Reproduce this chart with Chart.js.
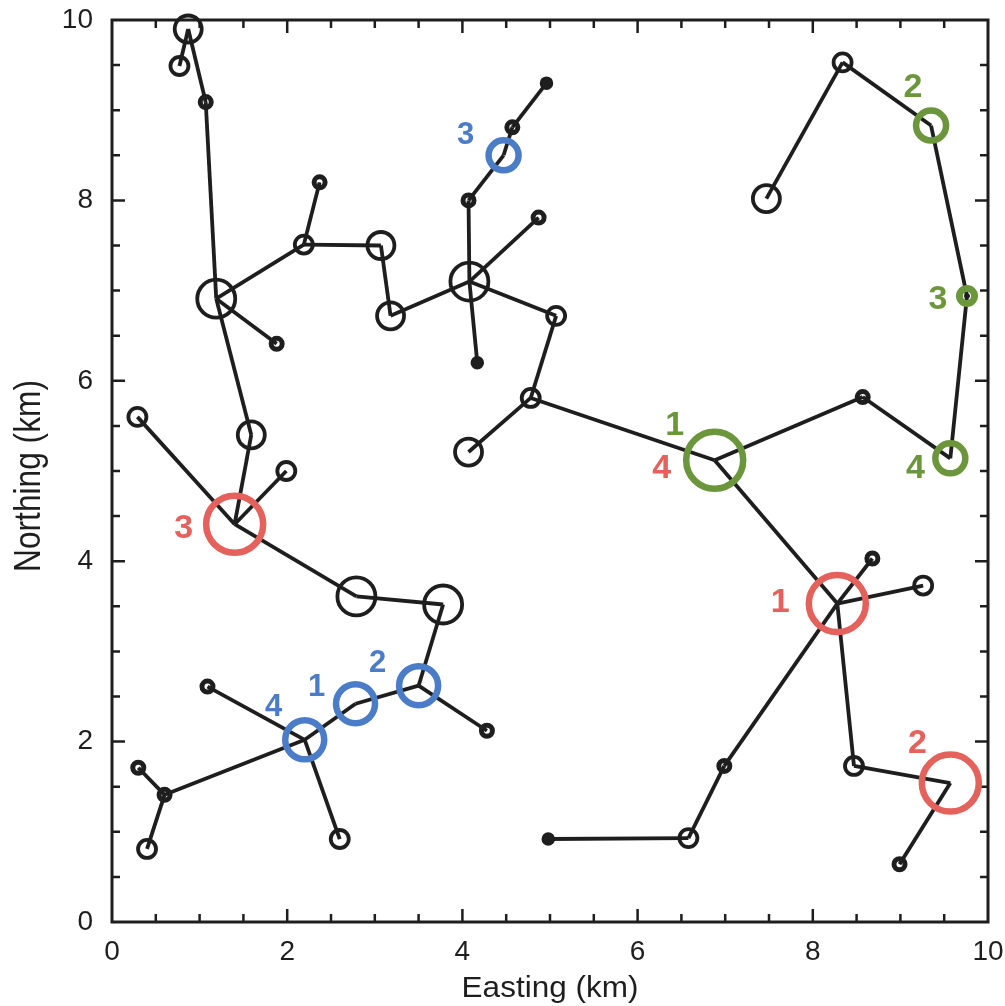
<!DOCTYPE html>
<html>
<head>
<meta charset="utf-8">
<script src="https://cdn.jsdelivr.net/npm/chart.js@4/dist/chart.umd.min.js"></script>
<style>
  html, body { margin: 0; padding: 0; background: #fff; }
  canvas { display: block; }
</style>
</head>
<body>
<canvas id="chart" width="1005" height="1006"></canvas>
<script>
// site coordinates (km), sites numbered from 1 in the comments
const siteEast = [
    0.87, 0.77, 1.07, 1.19, 1.88, 2.19, 2.37, 3.07, 3.18, 4.08,   // 1-10
    4.07, 4.47, 4.57, 4.96, 4.87, 4.17, 5.07, 4.78, 4.07, 6.88,   // 11-20
    8.57, 9.57, 9.76, 9.35, 8.34, 7.47, 8.28, 8.68, 9.26, 8.47,   // 21-30
    9.57, 8.99, 6.99, 6.58, 4.98, 1.40, 0.29, 1.59, 1.99, 2.79,   // 31-40
    3.78, 3.50, 4.28, 2.78, 2.20, 1.09, 2.60, 0.60, 0.30, 0.40    // 41-50
];
const siteNorth = [
    9.90, 9.49, 9.09, 6.91, 6.41, 7.51, 8.20, 7.50, 6.72, 7.10,
    8.00, 8.50, 8.81, 9.30, 7.81, 6.20, 6.72, 5.81, 5.21, 5.12,
    5.82, 5.14, 6.94, 8.83, 9.53, 8.02, 3.53, 4.03, 3.73, 1.73,
    1.54, 0.64, 1.73, 0.93, 0.92, 4.41, 5.60, 5.40, 5.00, 3.61,
    3.52, 2.62, 2.12, 2.42, 2.02, 2.61, 0.92, 1.41, 1.71, 0.81
];
// symbol class of each site: 0 solid, 1 tiny, 2 small, 3 medium, 4 large, 5 pin, -1 only coloured ring
const siteClass = [
    3, 2, 1, 4, 1, 2, 1, 3, 3, 4,
    1, -1, 1, 0, 1, 0, 2, 2, 3, -1,
    1, -1, 5, -1, 2, 3, -1, 1, 2, 2,
    -1, 1, 1, 2, 0, -1, 2, 3, 2, 4,
    4, -1, 1, -1, -1, 1, 2, 1, 1, 2
];
// links between sites (site numbers)
const links = [
    [1, 2], [1, 3], [3, 4], [4, 5], [4, 6], [6, 7], [6, 8], [8, 9], [9, 10], [4, 38], [38, 36],
    [10, 11], [11, 12], [12, 13], [13, 14], [10, 15], [10, 16], [10, 17], [17, 18], [18, 19], [18, 20],
    [20, 21], [21, 22], [22, 23], [23, 24], [24, 25], [25, 26],
    [20, 27], [27, 28], [27, 29], [27, 30], [27, 33], [30, 31], [31, 32], [33, 34], [34, 35],
    [36, 37], [36, 39], [36, 40], [40, 41], [41, 42], [42, 43], [42, 44], [44, 45],
    [45, 46], [45, 47], [45, 48], [48, 49], [48, 50]
];
// coloured sequences, labelled 1..4 in order
const redSites = [27, 31, 36, 20];
const redRing = [5, 5, 5, 0];
const greenSites = [20, 24, 23, 22];
const greenRing = [5, 3, 1, 3];
const blueSites = [44, 42, 12, 45];
const blueRing = [4, 4, 3, 4];
const seqLabels = ["1", "2", "3", "4"];
const xTicks = [0, 2, 4, 6, 8, 10];
const yTicks = [0, 2, 4, 6, 8, 10];

const INK = "#1e1e1e";
const RED = "#e5615b";
const GREEN = "#6c963b";
const BLUE = "#4b7cc8";
const FONT = "'Liberation Sans', Arial, sans-serif";

const symbolStyle = {
    0: { r: 6, bw: 1.5, fill: INK },
    1: { r: 5.5, bw: 5, fill: "rgba(0,0,0,0)" },
    2: { r: 9, bw: 3.8, fill: "rgba(0,0,0,0)" },
    3: { r: 13.5, bw: 3.8, fill: "rgba(0,0,0,0)" },
    4: { r: 19, bw: 3.8, fill: "rgba(0,0,0,0)" },
    5: { r: 2.5, bw: 1, fill: INK }
};
const ringRadius = { 1: 7.5, 3: 15, 4: 19.5, 5: 28.5 };
const ringWidth = { 1: 7, 3: 6.5, 4: 6.5, 5: 6.5 };

// label offsets in pixels from the site centre
const labelOffset = {
    red: [[-57, -1], [-33, -39], [-51, 4], [-53, 8]],
    green: [[-40, -35], [-18, -38], [-29, 4], [-35, 10]],
    blue: [[-39, -16], [-41, -22], [-38, -20], [-31, -32]]
};

function site(n) {
    return { x: siteEast[n - 1], y: siteNorth[n - 1] };
}

let datasets = [];

for (let l of links) {
    datasets.push({
        data: [site(l[0]), site(l[1])],
        showLine: true,
        borderColor: INK,
        borderWidth: 3.8,
        pointRadius: 0,
        order: 3,
        clip: false
    });
}

for (let c = 0; c <= 5; c++) {
    let pts = [];
    for (let i = 0; i < siteClass.length; i++) {
        if (siteClass[i] === c) pts.push(site(i + 1));
    }
    let st = symbolStyle[c];
    datasets.push({
        data: pts,
        pointRadius: st.r,
        pointBorderWidth: st.bw,
        pointBorderColor: INK,
        pointBackgroundColor: st.fill,
        order: 2,
        clip: false
    });
}

function ringSet(sites, rings, color) {
    let pts = [], rad = [], wid = [];
    for (let i = 0; i < sites.length; i++) {
        if (!rings[i]) continue;
        pts.push(site(sites[i]));
        rad.push(ringRadius[rings[i]]);
        wid.push(ringWidth[rings[i]]);
    }
    return {
        data: pts,
        pointRadius: rad,
        pointBorderWidth: wid,
        pointBorderColor: color,
        pointBackgroundColor: "rgba(0,0,0,0)",
        order: 1,
        clip: false
    };
}
datasets.push(ringSet(redSites, redRing, RED));
datasets.push(ringSet(greenSites, greenRing, GREEN));
datasets.push(ringSet(blueSites, blueRing, BLUE));

const frame = {
    id: "frame",
    beforeDatasetsDraw(chart) {
        const ctx = chart.ctx, a = chart.chartArea;
        const xs = chart.scales.x, ys = chart.scales.y;
        ctx.save();
        ctx.strokeStyle = INK;
        ctx.lineWidth = 3;
        ctx.strokeRect(a.left, a.top, a.right - a.left, a.bottom - a.top);
        ctx.lineWidth = 2.5;
        for (let v = 0.5; v < 10; v += 0.5) {
            let len = (v % 2 === 0) ? 13 : 8;
            let px = xs.getPixelForValue(v);
            let py = ys.getPixelForValue(v);
            ctx.beginPath();
            ctx.moveTo(px, a.bottom); ctx.lineTo(px, a.bottom - len);
            ctx.moveTo(px, a.top); ctx.lineTo(px, a.top + len);
            ctx.moveTo(a.left, py); ctx.lineTo(a.left + len, py);
            ctx.moveTo(a.right, py); ctx.lineTo(a.right - len, py);
            ctx.stroke();
        }
        // axis titles
        ctx.fillStyle = INK;
        ctx.textAlign = "center";
        ctx.textBaseline = "alphabetic";
        ctx.save();
        ctx.translate((a.left + a.right) / 2, 997);
        ctx.scale(1.05, 1);
        ctx.font = "30px " + FONT;
        ctx.fillText("Easting (km)", 0, 0);
        ctx.restore();
        ctx.translate(40, 476);
        ctx.rotate(-Math.PI / 2);
        ctx.scale(0.88, 1);
        ctx.font = "36px " + FONT;
        ctx.fillText("Northing (km)", 0, 0);
        ctx.restore();
    },
    afterDatasetsDraw(chart) {
        const ctx = chart.ctx;
        const xs = chart.scales.x, ys = chart.scales.y;
        ctx.save();
        ctx.textAlign = "center";
        ctx.textBaseline = "middle";
        const groups = [
            [redSites, RED, labelOffset.red, 34],
            [greenSites, GREEN, labelOffset.green, 34],
            [blueSites, BLUE, labelOffset.blue, 31]
        ];
        for (let g of groups) {
            ctx.fillStyle = g[1];
            ctx.font = "bold " + g[3] + "px " + FONT;
            for (let i = 0; i < g[0].length; i++) {
                let s = site(g[0][i]);
                let px = xs.getPixelForValue(s.x) + g[2][i][0];
                let py = ys.getPixelForValue(s.y) + g[2][i][1];
                ctx.fillText(seqLabels[i], px, py);
            }
        }
        ctx.restore();
    }
};

function fixWidth(w) {
    return function (scale) {
        scale.width = w;
        scale.paddingTop = 0;
        scale.paddingBottom = 0;
    };
}
function fixHeight(h) {
    return function (scale) {
        scale.height = h;
        scale.paddingLeft = 0;
        scale.paddingRight = 0;
    };
}

new Chart(document.getElementById("chart").getContext("2d"), {
    type: "scatter",
    data: { datasets: datasets },
    options: {
        responsive: false,
        devicePixelRatio: 1,
        animation: false,
        layout: { autoPadding: false, padding: { top: 20, right: 17, left: 0, bottom: 0 } },
        plugins: {
            legend: { display: false },
            tooltip: { enabled: false }
        },
        scales: {
            x: {
                type: "linear",
                min: 0,
                max: 10,
                afterBuildTicks: function (scale) {
                    scale.ticks = xTicks.map(v => ({ value: v }));
                },
                afterFit: fixHeight(84),
                grid: { display: false, drawTicks: false },
                border: { display: false },
                ticks: {
                    padding: 13,
                    color: INK,
                    maxRotation: 0,
                    font: { family: FONT, size: 28 }
                }
            },
            y: {
                type: "linear",
                min: 0,
                max: 10,
                afterBuildTicks: function (scale) {
                    scale.ticks = yTicks.map(v => ({ value: v }));
                },
                afterFit: fixWidth(112),
                grid: { display: false, drawTicks: false },
                border: { display: false },
                ticks: {
                    padding: 19,
                    color: INK,
                    font: { family: FONT, size: 28 }
                }
            }
        }
    },
    plugins: [frame]
});
</script>
</body>
</html>
